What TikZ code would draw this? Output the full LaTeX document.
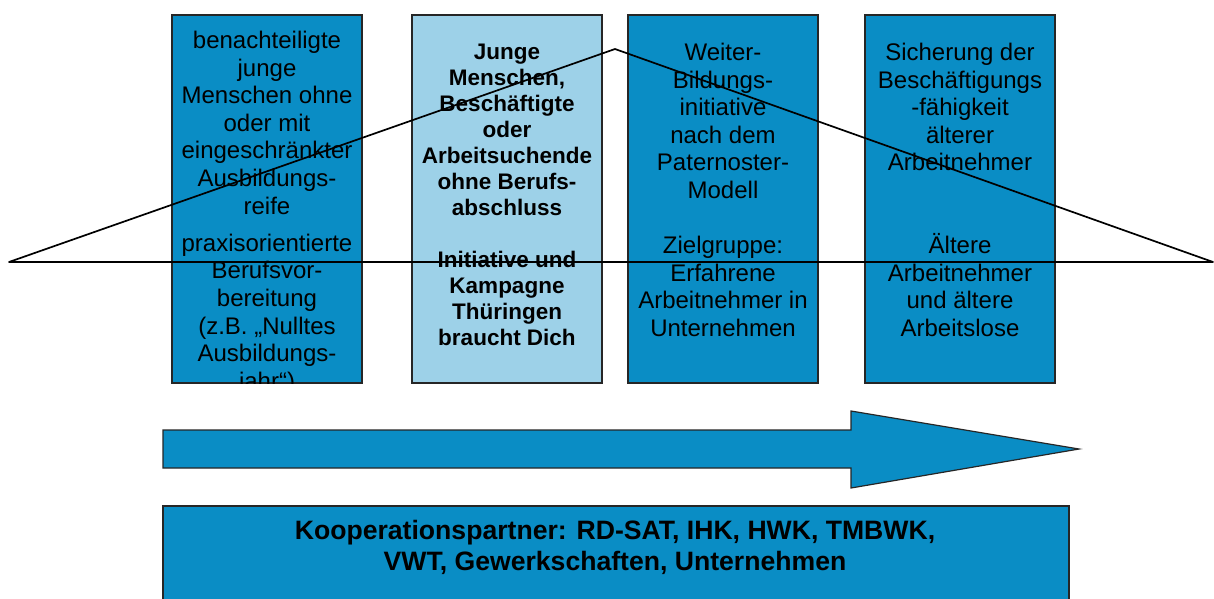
\documentclass[tikz,border=0pt]{standalone}
\usepackage{fontspec}
\setmainfont{Liberation Sans}
\definecolor{boxblue}{RGB}{10,141,197}
\definecolor{paleblue}{RGB}{157,209,232}

\begin{document}
\begin{tikzpicture}[x=1pt, y=-1pt,
    box/.style={rectangle, draw=black!85, line width=1.2pt, fill=boxblue, minimum width=190pt, minimum height=368pt, inner sep=0pt},
    txt/.style={anchor=north, align=center, inner sep=0pt, font=\fontsize{24}{27.6}\selectfont},
    boldtxt/.style={anchor=north, align=center, inner sep=0pt, font=\fontsize{22.5}{26}\selectfont\bfseries},
    tri/.style={line width=1.7pt, line join=round, black},
    bigarrow/.style={draw=black!85, line width=1.2pt, fill=boxblue},
    partner/.style={rectangle, draw=black!85, line width=1.2pt, fill=boxblue, minimum width=906pt, minimum height=104pt, inner sep=0pt}
]
\useasboundingbox (0,0) rectangle (1214,598);
\clip (0,0) rectangle (1214,598);

% Boxes
\node[box] (b1) at (267,199) {};
\node[box, fill=paleblue] (b2) at (507,199) {};
\node[box] (b3) at (723,199) {};
\node[box] (b4) at (960,199) {};

% Texts
\begin{scope}
\clip (b1.south west) rectangle (b1.north east);
\node[txt] (t1) at (267,31) {benachteiligte\\junge\\Menschen ohne\\oder mit\\eingeschränkter\\Ausbildungs-\\reife\\[9.5pt]praxisorientierte\\Berufsvor-\\bereitung\\(z.B. „Nulltes\\Ausbildungs-\\jahr“)};
\end{scope}
\node[boldtxt] (t2) at (507,44) {Junge\\Menschen,\\Beschäftigte\\oder\\Arbeitsuchende\\ohne Berufs-\\abschluss\\[26pt]Initiative und\\Kampagne\\Thüringen\\braucht Dich};
\node[txt] (t3) at (723,43) {Weiter-\\Bildungs-\\initiative\\nach dem\\Paternoster-\\Modell\\[27.6pt]Zielgruppe:\\Erfahrene\\Arbeitnehmer in\\Unternehmen};
\node[txt] (t4) at (960,43) {Sicherung der\\Beschäftigungs\\-fähigkeit\\älterer\\Arbeitnehmer\\[55.2pt]Ältere\\Arbeitnehmer\\und ältere\\Arbeitslose};

% Triangle
\coordinate (tl) at (9,262);
\coordinate (ta) at (615,49);
\coordinate (tr) at (1213,262);
\draw[tri] (tl) -- (ta) -- (tr) -- cycle;

% Arrow
\draw[bigarrow] (163,430) -- (851,430) -- (851,411) -- (1079,449) -- (851,488) -- (851,468) -- (163,468) -- cycle;

% Partners
\node[partner] (kp) at (616,558) {};
\node[anchor=north, align=center, inner sep=0pt, font=\fontsize{26.6}{31}\selectfont\bfseries] (kt) at (615,520) {Kooperationspartner: RD-SAT, IHK, HWK, TMBWK,\\VWT, Gewerkschaften, Unternehmen};

\end{tikzpicture}
\end{document}
